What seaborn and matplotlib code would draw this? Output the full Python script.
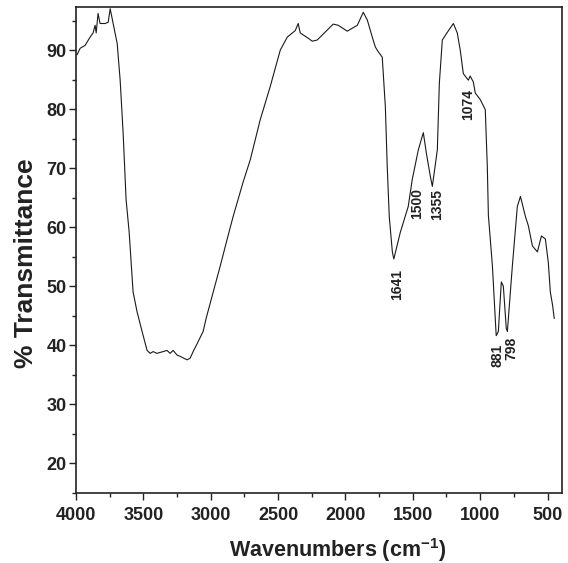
import matplotlib
matplotlib.use("Agg")
import matplotlib.pyplot as plt
from matplotlib.ticker import MultipleLocator
import seaborn as sns
import pandas as pd

# Wavenumbers (cm-1) and % transmittance
wavenumber = [3993, 3970, 3933, 3896, 3874, 3859, 3851, 3837, 3822, 3785, 3762, 3747,
              3725, 3695, 3673, 3651, 3629, 3606, 3577, 3547, 3510, 3473, 3450, 3428,
              3400, 3354, 3325, 3302, 3280, 3250, 3228, 3176, 3153, 3131, 3109, 3057,
              3035, 2982, 2930, 2878, 2834, 2759, 2707,
              2633, 2559, 2484, 2432, 2373, 2351, 2336, 2276, 2247, 2210, 2091, 2054,
              1987, 1912, 1868, 1838, 1801, 1778, 1756, 1727, 1704, 1690, 1675, 1652, 1641,
              1593, 1534, 1504, 1459, 1422, 1400, 1370, 1355, 1318, 1303, 1281, 1244,
              1199, 1170, 1148, 1125, 1088, 1074, 1051, 1036, 999, 962, 947, 939, 909, 881,
              865, 843, 828, 806, 798, 761, 724, 701, 664, 642, 612, 575,
              545, 516, 494, 479, 462, 450]
transmittance = [89.2, 90.3, 90.8, 92.2, 92.9, 94.2, 92.9, 96.2, 94.5, 94.5, 94.7, 97.0,
                 94.5, 91.1, 84.9, 76.0, 64.7, 59.1, 49.0, 45.6, 42.3, 39.1, 38.6, 38.9,
                 38.6, 38.9, 39.1, 38.6, 39.1, 38.3, 38.1, 37.5, 37.8, 38.9, 39.9, 42.3,
                 44.5, 49.0, 53.4, 58.0, 61.8, 67.7, 71.4,
                 78.2, 83.8, 90.0, 92.2, 93.3, 94.5, 92.9, 92.0, 91.5, 91.7, 94.4, 94.2,
                 93.2, 94.2, 96.4, 95.1, 92.2, 90.5, 89.7, 88.8, 80.4, 70.3, 61.8, 55.8, 54.6,
                 59.1, 63.5, 68.1, 73.1, 76.0, 72.6, 68.6, 66.9, 73.1, 84.4, 91.7, 93.0,
                 94.5, 92.9, 90.0, 86.0, 84.9, 85.6, 84.6, 82.7, 81.6, 79.9, 70.3, 62.0, 53.4, 41.6,
                 42.3, 50.7, 50.0, 42.8, 42.3, 53.4, 63.5, 65.2, 61.8, 60.2, 56.8, 55.8,
                 58.5, 58.0, 54.0, 49.0, 46.7, 44.5]

peak_labels = ["1641", "1500", "1355", "1074", "881", "798"]
x_ticks = [4000, 3500, 3000, 2500, 2000, 1500, 1000, 500]
y_ticks = [20, 30, 40, 50, 60, 70, 80, 90]

df = pd.DataFrame({"wn": wavenumber, "T": transmittance})

sns.set_style("ticks")
plt.rcParams["font.family"] = ["Liberation Sans", "DejaVu Sans"]
plt.rcParams["font.weight"] = "bold"
plt.rcParams["mathtext.default"] = "regular"

fig = plt.figure(figsize=(5.68, 5.63), dpi=100)
ax = fig.add_axes([0.134, 0.125, 0.856, 0.8626])

sns.lineplot(data=df, x="wn", y="T", sort=False, estimator=None, ax=ax,
             color="#1a1a1a", linewidth=0.8)

ax.set_xlim(4000, 390)
ax.set_ylim(15, 97.3)
ax.set_xticks(x_ticks)
ax.set_yticks(y_ticks)
ax.xaxis.set_minor_locator(MultipleLocator(250))
ax.yaxis.set_minor_locator(MultipleLocator(5))
ax.tick_params(which="major", direction="out", length=5, width=1.0,
               labelsize=13, colors="#222222")
ax.tick_params(axis="y", which="major", pad=2)
ax.tick_params(axis="x", which="major", pad=5)
ax.tick_params(which="minor", direction="out", length=3, width=1.0, colors="#222222")
for lab in ax.get_xticklabels() + ax.get_yticklabels():
    lab.set_fontweight("bold")
for sp in ax.spines.values():
    sp.set_visible(True)
    sp.set_linewidth(1.2)
    sp.set_color("#222222")

ax.set_xlabel("Wavenumbers (cm$^{-1}$)", fontsize=15.5, fontweight="bold",
              color="#222222")
ax.set_ylabel("% Transmittance", fontsize=19, fontweight="bold",
              color="#222222")
ax.xaxis.set_label_coords(0.537, -0.09)
ax.yaxis.set_label_coords(-0.078, 0.473)

# annotation text anchors (top of rotated text) in data coords
label_pos = [(1615, 52.9), (1467, 66.7), (1318, 66.5), (1088, 83.4), (872, 40.2), (768, 41.4)]
for txt, (xx, yy) in zip(peak_labels, label_pos):
    ax.text(xx, yy, txt, rotation=90, ha="center", va="top", fontsize=10,
            fontweight="bold", color="#222222")

fig.savefig("out.png", dpi=100)
